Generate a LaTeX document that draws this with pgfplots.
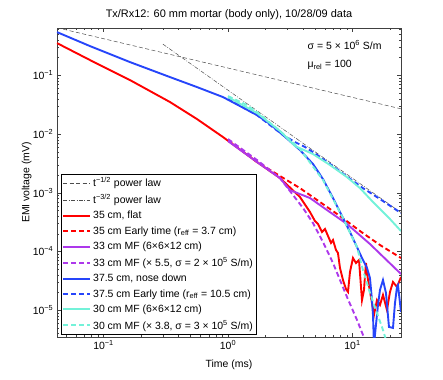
\documentclass[border=0pt]{standalone}
\usepackage{fontspec}
\setmainfont{Liberation Sans}
\usepackage{pgfplots}
\pgfplotsset{compat=1.18}

\definecolor{cred}{rgb}{1,0,0}
\definecolor{cpurple}{rgb}{0.68,0.22,0.92}
\definecolor{cblue}{rgb}{0.15,0.27,0.98}
\definecolor{ccyan}{rgb}{0.45,0.95,0.85}
\definecolor{cgray}{rgb}{0.3,0.3,0.3}

\pgfplotsset{
  data/.style={line width=1.9pt},
  model/.style={line width=1.9pt, dash pattern=on 5pt off 3pt},
}

\begin{document}
\fontsize{10.5}{12.5}\selectfont
\begin{tikzpicture}
\begin{axis}[
    name=ax,
    xmode=log, ymode=log,
    scale only axis, width=344bp, height=309bp,
    xmin=0.0423, xmax=24.53, ymin=3.5e-6, ymax=0.64,
    xtick={0.1,1,10},
    xticklabels={10\textsuperscript{−1},10\textsuperscript{0},10\textsuperscript{1}},
    ytick={1e-5,1e-4,1e-3,1e-2,1e-1},
    yticklabels={10\textsuperscript{−5},10\textsuperscript{−4},10\textsuperscript{−3},10\textsuperscript{−2},10\textsuperscript{−1}},
    minor xtick={0.05,0.06,0.07,0.08,0.09,0.2,0.3,0.4,0.5,0.6,0.7,0.8,0.9,2,3,4,5,6,7,8,9,20},
    minor ytick={4e-6,5e-6,6e-6,7e-6,8e-6,9e-6,2e-5,3e-5,4e-5,5e-5,6e-5,7e-5,8e-5,9e-5,
                 2e-4,3e-4,4e-4,5e-4,6e-4,7e-4,8e-4,9e-4,2e-3,3e-3,4e-3,5e-3,6e-3,7e-3,8e-3,9e-3,
                 2e-2,3e-2,4e-2,5e-2,6e-2,7e-2,8e-2,9e-2,0.2,0.3,0.4,0.5,0.6},
    tick align=inside, major tick length=4bp, minor tick length=2.2bp,
    xtick pos=both, ytick pos=both,
    every tick/.style={black!75, line width=0.4pt},
    axis line style={black!75, line width=0.5pt},
    title={Tx/Rx12: 60 mm mortar (body only), 10/28/09 data},
    title style={yshift=-1bp, font=\fontsize{11}{13}\selectfont},
    xlabel={Time (ms)}, ylabel={EMI voltage (mV)},
    xlabel style={yshift=-3bp},
    ylabel style={yshift=-6bp},
    legend style={at={(0.012,0.01)}, anchor=south west, draw=black,
        font=\fontsize{10.5}{12}\selectfont, inner sep=1pt, row sep=2.2bp},
    legend cell align=left,
    legend image code/.code={\draw[#1] (0bp,0bp) -- (27bp,0bp);},
]
\addplot[cgray, line width=0.5pt, dash pattern=on 4pt off 2.5pt] coordinates {(0.0423,0.647) (24.53,0.0269)};
\addlegendentry{t\textsuperscript{−1/2} power law}
\addplot[cgray, line width=0.5pt, dash pattern=on 4pt off 1.5pt on 0.8pt off 1.5pt] coordinates {(0.30,0.340) (24.53,4.60e-4)};
\addlegendentry{t\textsuperscript{−3/2} power law}

\addplot[cred, data] coordinates {
(0.0423,0.354) (0.0779,0.182) (0.1633,0.0830) (0.342,0.0351) (0.5637,0.0180)
(0.9118,8.89e-3) (1.710,3.34e-3) (2.617,1.78e-3) (3.787,8.47e-4) (4.557,4.70e-4)
(4.998,3.30e-4) (5.284,2.94e-4) (5.689,2.15e-4) (6.014,2.42e-4) (6.357,1.84e-4)
(6.721,1.40e-4) (6.974,1.57e-4) (7.372,1.06e-4) (7.646,9.43e-5) (7.937,5.24e-5)
(8.390,3.27e-5) (8.869,2.30e-5) (9.204,2.05e-5) (9.548,4.48e-5) (10.09,7.75e-5)
(10.67,6.37e-5) (11.28,7.17e-5) (11.92,1.49e-5) (12.37,2.21e-5) (12.83,6.37e-5)
(13.32,3.27e-5) (14.34,1.33e-5) (14.88,8.30e-6) (15.73,1.49e-5) (16.63,1.23e-5)
(17.58,1.82e-5) (18.93,1.01e-5) (20.01,2.05e-5) (21.15,3.03e-5) (22.78,2.49e-5)
(24.53,3.68e-5)};
\addlegendentry{35 cm, flat}
\addplot[cred, model] coordinates {
(1.0,7.90e-3) (1.710,3.34e-3) (2.617,1.93e-3) (3.787,1.20e-3) (5.483,6.96e-4)
(7.937,4.02e-4) (11.49,2.23e-4) (16.63,1.29e-4) (24.53,7.75e-5)};
\addlegendentry{35 cm Early time (r\textsubscript{eff} = 3.7 cm)}

\addplot[cpurple, data] coordinates {
(1.0,7.60e-3) (1.710,3.34e-3) (2.617,1.78e-3) (3.147,1.11e-3) (4.557,8.14e-4)
(6.240,5.08e-4) (9.034,2.94e-4) (13.82,1.34e-4) (24.53,4.14e-5)};
\addlegendentry{33 cm MF (6×6×12 cm)}
\addplot[cpurple, model] coordinates {
(1.0,8.22e-3) (1.710,3.61e-3) (2.617,1.78e-3) (3.328,9.16e-4) (4.004,5.50e-4)
(4.817,3.05e-4) (5.796,1.45e-4) (6.974,6.37e-5) (9.034,1.68e-5) (10.87,6.82e-6)
(12.60,3.12e-6)};
\addlegendentry{33 cm MF (× 5.5, σ = 2 × 10\textsuperscript{5} S/m)}

\addplot[cblue, data] coordinates {
(0.0423,0.5446) (0.0779,0.3147) (0.1633,0.1681) (0.342,0.0934) (0.5637,0.0631)
(0.9118,0.04263) (1.710,0.02105) (2.175,0.01480) (2.766,9.61e-3) (3.787,5.34e-3)
(4.817,3.09e-3) (5.796,1.71e-3) (6.974,8.14e-4) (8.390,3.72e-4) (9.548,2.15e-4)
(10.67,1.29e-4) (11.92,7.75e-5) (13.08,5.24e-5) (13.82,3.54e-5) (14.34,1.49e-5)
(14.61,8.30e-6) (14.88,2.56e-6) (15.44,5.61e-6) (16.03,1.23e-5) (16.63,2.21e-5)
(17.58,3.27e-5) (18.58,1.97e-5) (19.64,5.19e-6) (21.15,4.99e-6) (21.95,1.33e-5)
(22.78,2.49e-5) (23.20,2.69e-5) (24.53,9.34e-6)};
\addlegendentry{37.5 cm, nose down}
\addplot[cblue, model] coordinates {
(1.0,0.03942) (1.710,0.02105) (2.766,9.61e-3) (3.452,7.31e-3) (4.154,6.01e-3)
(4.817,4.94e-3) (6.596,3.09e-3) (8.708,2.00e-3) (12.14,1.20e-3) (16.63,7.83e-4)
(24.53,4.52e-4)};
\addlegendentry{37.5 cm Early time (r\textsubscript{eff} = 10.5 cm)}

\addplot[ccyan, data] coordinates {
(1.0,0.04263) (1.710,0.02277) (2.617,0.01125) (3.452,6.25e-3) (4.817,4.57e-3)
(6.596,2.97e-3) (9.034,1.85e-3) (11.49,1.20e-3) (14.61,6.96e-4) (20.01,3.57e-4)
(24.53,2.23e-4)};
\addlegendentry{30 cm MF (6×6×12 cm)}
\addplot[ccyan, model] coordinates {
(1.0,0.04433) (1.369,0.03241) (1.710,0.02368) (2.617,0.01125) (3.787,5.56e-3)
(5.796,1.65e-3) (8.390,3.72e-4) (9.908,1.77e-4) (10.87,1.19e-4) (12.14,4.84e-5)
(13.82,1.97e-5) (15.73,8.98e-6) (17.58,4.61e-6) (18.58,3.12e-6)};
\addlegendentry{30 cm MF (× 3.8, σ = 3 × 10\textsuperscript{5} S/m)}

\node[anchor=west, font=\fontsize{10.5}{12}\selectfont] at (rel axis cs:0.718,0.945) {σ = 5 × 10\textsuperscript{6} S/m};
\node[anchor=west, font=\fontsize{10.5}{12}\selectfont] at (rel axis cs:0.718,0.88) {μ\textsubscript{rel} = 100};
\end{axis}
\pgfresetboundingbox
\path[use as bounding box] ([xshift=-57bp,yshift=-43bp]ax.south west) rectangle ([xshift=42bp,yshift=28bp]ax.north east);
\end{tikzpicture}
\end{document}
